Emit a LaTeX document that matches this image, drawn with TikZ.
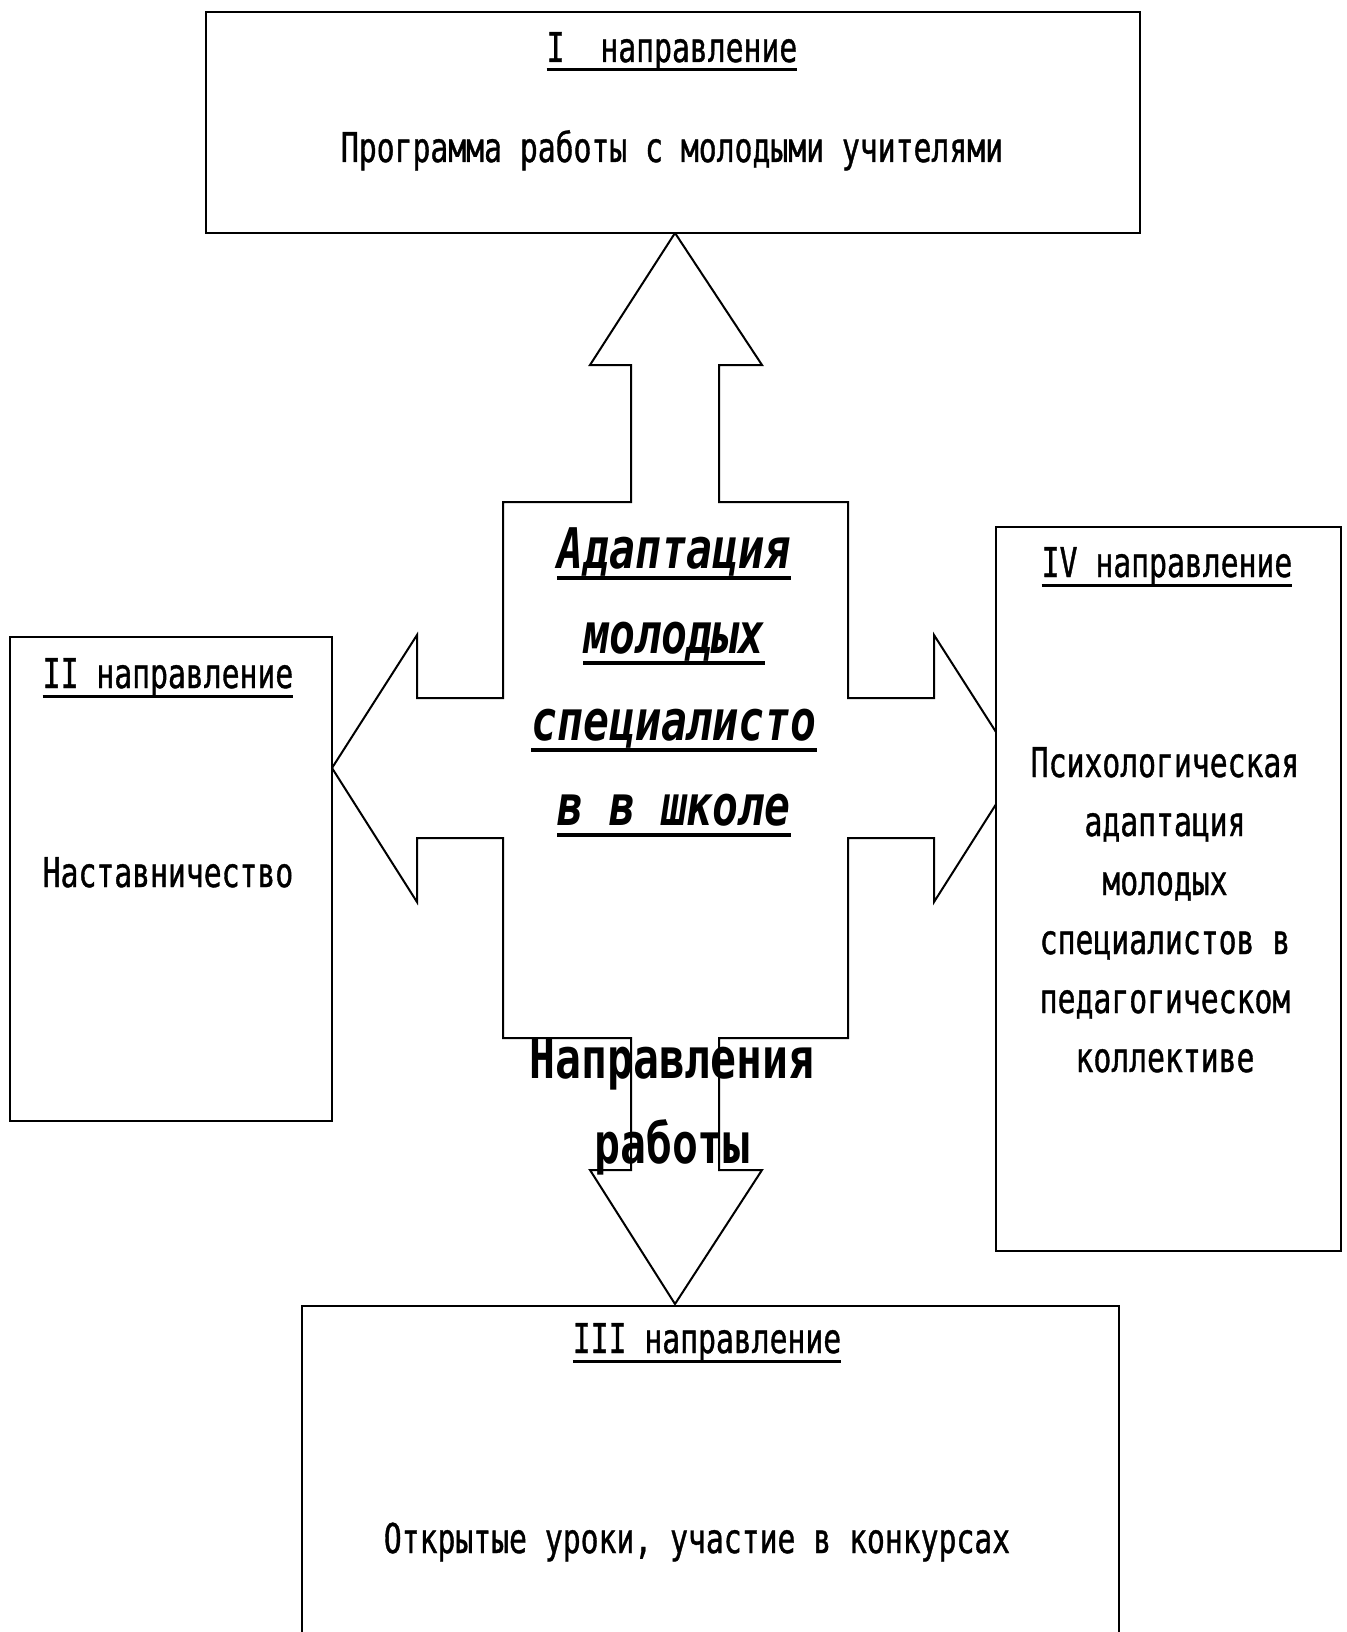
\documentclass[tikz,border=0pt]{standalone}
\usepackage{fontspec}
\newfontfamily\smallf[FakeStretch=0.725,FakeBold=0.9]{DejaVu Sans Mono}
\newfontfamily\bigf[FakeStretch=0.77]{DejaVu Sans Mono}
\newcommand\ulsmall[1]{\setbox0\hbox{#1}\rlap{\rule[-4.75pt]{\wd0}{1.5pt}}\box0}
\newcommand\ulbig[1]{\setbox0\hbox{#1}\rlap{\rule[-6pt]{\wd0}{2pt}}\box0}
\tikzset{
  box/.style={draw, line width=1.3pt, fill=white, inner sep=0pt, rectangle},
  sm/.style={anchor=base, inner sep=0pt, font=\smallf\fontsize{20.5}{24}\selectfont},
  bigit/.style={anchor=base, inner sep=0pt, font=\bigf\fontsize{28}{32}\selectfont\bfseries\itshape},
  bigbf/.style={anchor=base, inner sep=0pt, font=\bigf\fontsize{28}{32}\selectfont\bfseries},
  cross/.style={draw, line width=1pt, line join=miter}
}
\begin{document}
\begin{tikzpicture}[x=0.5pt, y=-0.5pt]
\clip (0,0) rectangle (1346,1632);
\fill[white] (0,0) rectangle (1346,1632);
% cross-shaped four-way arrow
\draw[cross] (675,233) -- (762,365) -- (719,365) -- (719,502) -- (848,502)
  -- (848,698) -- (934,698) -- (934,635) -- (1019,768) -- (934,902) -- (934,838)
  -- (848,838) -- (848,1038) -- (719,1038) -- (719,1170) -- (762,1170)
  -- (675,1304) -- (590,1170) -- (631,1170) -- (631,1038) -- (503,1038)
  -- (503,838) -- (417,838) -- (417,902) -- (332,768) -- (417,635) -- (417,698)
  -- (503,698) -- (503,502) -- (631,502) -- (631,365) -- (590,365) -- cycle;
% boxes
\node[box, minimum width=467pt, minimum height=110.5pt] (b1) at (673,122.5) {};
\node[box, minimum width=161pt, minimum height=242pt] (b2) at (171,879) {};
\node[box, minimum width=172.5pt, minimum height=362pt] (b4) at (1168.5,889) {};
\node[box, minimum width=408.5pt, minimum height=200pt] (b3) at (710.5,1506) {};
% box I
\node[sm] (t1a) at (672,62) {\ulsmall{I\ \ направление}};
\node[sm] (t1b) at (672,162) {Программа работы с молодыми учителями};
% box II
\node[sm] (t2a) at (168,688) {\ulsmall{II направление}};
\node[sm] (t2b) at (168,887) {Наставничество};
% box IV
\node[sm] (t4a) at (1167,577) {\ulsmall{IV направление}};
\node[sm] (t4b) at (1165,777) {Психологическая};
\node[sm] (t4c) at (1165,836) {адаптация};
\node[sm] (t4d) at (1165,895) {молодых};
\node[sm] (t4e) at (1165,954) {специалистов в};
\node[sm] (t4f) at (1165,1013) {педагогическом};
\node[sm] (t4g) at (1165,1072) {коллективе};
% box III
\node[sm] (t3a) at (707,1353) {\ulsmall{III направление}};
\node[sm] (t3b) at (697,1553) {Открытые уроки, участие в конкурсах};
% centre
\node[bigit] (c1) at (674,568) {\ulbig{Адаптация}};
\node[bigit] (c2) at (674,653) {\ulbig{молодых}};
\node[bigit] (c3) at (674,740) {\ulbig{специалисто}};
\node[bigit] (c4) at (674,825) {\ulbig{в в школе}};
\node[bigbf] (d1) at (672,1078) {Направления};
\node[bigbf] (d2) at (672,1163) {работы};
\end{tikzpicture}
\end{document}
